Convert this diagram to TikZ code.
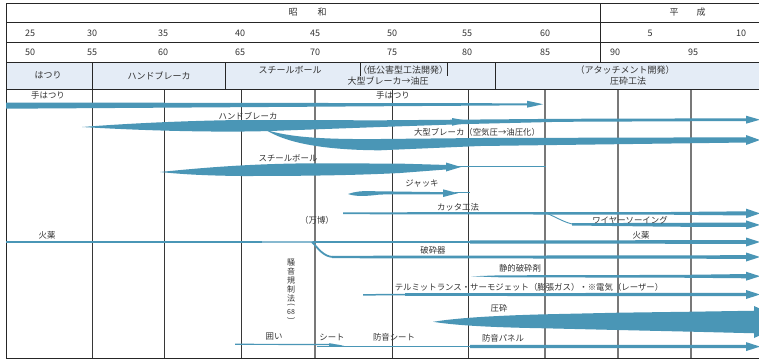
\documentclass[tikz,border=0pt]{standalone}
\usepackage{fontspec}
\setmainfont{Noto Sans CJK JP}
\definecolor{flow}{RGB}{74,150,182}
\definecolor{flowlight}{RGB}{135,185,208}
\definecolor{hdr}{RGB}{228,236,246}
\definecolor{txt}{RGB}{51,51,51}
\definecolor{gridd}{RGB}{55,55,55}
\definecolor{gridg}{RGB}{120,120,120}
\newcommand{\flowtip}[2]{\fill[flow] (746,#1-#2) -- (760,#1) -- (746,#1+#2) -- cycle;}
\begin{document}
\begin{tikzpicture}[x=1pt,y=-1pt,
  lbl/.style={font=\fontsize{8.4}{9}\selectfont, text=txt, inner sep=0pt},
  hlbl/.style={font=\fontsize{9}{10}\selectfont, text=txt, inner sep=0pt},
  frameline/.style={draw=black!85, line width=0.8pt},
  gridline/.style={draw=gridd, line width=0.8pt},
  gridgray/.style={draw=gridg, line width=1.1pt},
]
\useasboundingbox (0,0) rectangle (759,360);
\clip (0,0) rectangle (759,360);
\fill[white] (0,0) rectangle (759,360);
% header band
\fill[hdr] (6,62) rectangle (759,89);
% grid lines
\foreach \x in {92,164,241,392,468} \draw[gridline] (\x,89) -- (\x,358);
\foreach \x in {315,545,618,691} \draw[gridgray] (\x,89) -- (\x,358);
% frame
\draw[frameline] (6,3) -- (759,3);
\draw[frameline] (6,22) -- (759,22);
\draw[frameline] (6,42) -- (759,42);
\draw[frameline] (6,62) -- (759,62);
\draw[frameline] (6,89) -- (759,89);
\draw[frameline] (6,358) -- (759,358);
\draw[frameline] (6,3) -- (6,358);
\draw[frameline] (600,3) -- (600,62);
\draw[frameline] (92,62) -- (92,89);
\draw[frameline] (225,62) -- (225,89);
\draw[frameline] (495,62) -- (495,89);
\draw[frameline] (360,62) -- (360,76);
\draw[frameline] (447,62) -- (447,76);
% header texts
\node[hlbl] (sho1) at (293,12) {昭};
\node[hlbl] (sho2) at (322,12) {和};
\node[hlbl] (hei1) at (674,12) {平};
\node[hlbl] (hei2) at (701,12) {成};
\foreach \x/\t [count=\i] in {30/25,92/30,163/35,240/40,315/45,392/50,467/55,545/60,650/5,741/10}
  \node[hlbl] (ys\i) at (\x,33) {\t};
\foreach \x/\t [count=\i] in {30/50,92/55,163/60,240/65,315/70,392/75,467/80,545/85,615/90,693/95}
  \node[hlbl] (yw\i) at (\x,52) {\t};
\node[hlbl] (h1) at (48,75.5) {はつり};
\node[hlbl] (h2) at (159,76) {ハンドブレーカ};
\node[hlbl] (h3) at (290,70) {スチールボール};
\node[hlbl] (h4) at (403,70) {（低公害型工法開発）};
\node[hlbl] (h5) at (388,81) {大型ブレーカ→油圧};
\node[hlbl] (h6) at (625,70) {（アタッチメント開発）};
\node[hlbl] (h7) at (628,81) {圧砕工法};
% ---- flows ----
% te-hatsuri
\fill[flow] (6,102.5) -- (529,103.3) -- (529,105.3) -- (6,108.7) -- cycle;
\fill[flow] (527,100.7) -- (543,104.2) -- (527,107.7) -- cycle;
% hand breaker
\fill[flow] (82,127) .. controls (140,122.5) and (200,120.5) .. (241,120) -- (380,120.3) -- (468,119.6) -- (560,118.8) -- (747,118.3) -- (747,121) -- (560,121.8) -- (468,124) -- (380,127) -- (270,131) .. controls (220,132.5) and (150,131) .. (82,127) -- cycle;
\fill[flow] (452,118) -- (470,121.3) -- (452,125.8) -- cycle;
\flowtip{119.7}{4}
% large breaker branch
\fill[flow] (266,130) .. controls (290,137) and (320,139.5) .. (380,139) -- (480,138) -- (747,137.3) -- (747,142.5) -- (480,146) -- (380,150.3) .. controls (320,150) and (285,142) .. (266,130) -- cycle;
\flowtip{140}{5}
% steel ball
\fill[flow] (160,172) .. controls (200,168) and (250,163.5) .. (315,163.3) -- (400,163.6) -- (448,165) -- (448,169.3) -- (400,173) .. controls (350,175.5) and (300,176) .. (241,176) .. controls (200,175.5) and (180,174) .. (160,172) -- cycle;
\fill[flow] (446,162.5) -- (461,167) -- (446,171.5) -- cycle;
\draw[flow, line width=1.4pt] (455,166.5) -- (546,166.5);
% jack
\fill[flow] (348,194) .. controls (355,191.5) and (362,190.8) .. (372,191.2) -- (445,192.2) -- (445,194.3) -- (380,194.5) .. controls (365,196.5) and (355,196.5) .. (348,194) -- cycle;
\fill[flow] (443,189.3) -- (458,193.2) -- (443,197) -- cycle;
\draw[flow, line width=1pt] (455,192.7) -- (470,192.7);
% cutter
\fill[flow] (343,212.3) -- (670,212) -- (748,211.3) -- (748,215.5) -- (670,214.7) -- (343,214.2) -- cycle;
\flowtip{213.4}{4.8}
% wire sawing
\draw[flow, line width=0.9pt] (546,213) .. controls (556,217) and (565,223) .. (574,224.3);
\fill[flow] (572,223.2) -- (670,222.8) -- (748,222.6) -- (748,227) -- (670,226.7) -- (572,225.5) -- cycle;
\flowtip{224.9}{4.5}
% explosives
\draw[flow, line width=1.8pt] (6,242) -- (262,242);
\draw[flowlight, line width=1.8pt] (262,242) -- (313,242);
\draw[flow, line width=1.8pt] (313,242) -- (470,242);
\fill[flow] (470,240.3) -- (748,240.2) -- (748,243.8) -- (470,243.6) -- cycle;
\flowtip{242}{4.5}
% crusher
\draw[flow, line width=1.8pt] (312,242) .. controls (318,248) and (323,256.5) .. (333,257);
\fill[flow] (332,255.8) -- (748,255.2) -- (748,258.8) -- (332,258.2) -- cycle;
\flowtip{257}{4.5}
% static demolition agent
\fill[flow] (471,276.3) -- (500,275.3) -- (680,274.9) -- (748,274) -- (748,278.3) -- (680,277.7) -- (500,277.3) -- cycle;
\flowtip{276.2}{4.5}
% thermit
\draw[flow, line width=1.5pt] (363,294.8) -- (405,294.6);
\fill[flow] (405,293.2) -- (748,292.8) -- (748,296.2) -- (405,295.9) -- cycle;
\flowtip{294.5}{4.5}
% crushing
\fill[flow] (433,321.8) .. controls (460,317.5) and (500,315.5) .. (545,314.3) -- (618,312.7) -- (692,311.7) -- (756,310.7) -- (756,333.3) -- (692,331.7) -- (618,330) -- (545,328.3) .. controls (500,327.5) and (460,326) .. (433,321.8) -- cycle;
\fill[flow] (754,306) -- (790,322) -- (754,338) -- cycle;
% noise protection
\draw[flow, line width=1.2pt] (235,344.3) -- (333,344.5);
\fill[flow] (329,343.2) -- (344,345.6) -- (329,346.5) -- cycle;
\draw[flow, line width=1.4pt] (317,346.4) -- (470,346.4);
\fill[flow] (470,344.8) -- (748,344.9) -- (748,348.2) -- (470,348.1) -- cycle;
\flowtip{346.6}{4.5}
% ---- body labels ----
\node[lbl] (l1) at (48,95) {手はつり};
\node[lbl] (l2) at (393,95) {手はつり};
\node[lbl] (l3) at (248,116) {ハンドブレーカ};
\node[lbl] (l4) at (477,132) {大型ブレーカ（空気圧→油圧化）};
\node[lbl] (l5) at (288,158) {スチールボール};
\node[lbl] (l6) at (422,184) {ジャッキ};
\node[lbl] (l7) at (458,207) {カッタ工法};
\node[lbl] (l8) at (317,220) {（万博）};
\node[lbl] (l9) at (47,235) {火薬};
\node[lbl] (l10) at (641,235) {火薬};
\node[lbl] (l11) at (630,220) {ワイヤーソーイング};
\node[lbl] (l12) at (433,250) {破砕器};
\node[lbl] (l13) at (520,268) {静的破砕剤};
\node[lbl] (l14) at (529,287) {テルミットランス・サーモジェット（膨張ガス）・※電気（レーザー）};
\node[lbl] (l15) at (499,308) {圧砕};
\node[lbl] (l16) at (274,337) {囲い};
\node[lbl] (l17) at (332,337) {シート};
\node[lbl] (l18) at (394,337) {防音シート};
\node[lbl] (l19) at (503,338) {防音パネル};
\node[lbl, font=\fontsize{8}{9.1}\selectfont, align=center] (law) at (291,280.8) {騒\\音\\規\\制\\法};
\node[lbl, rotate=-90, font=\fontsize{8}{9}\selectfont] (pa) at (291,304.5) {(};
\node[lbl, font=\fontsize{7}{8}\selectfont] (n68) at (291,311.5) {68};
\node[lbl, rotate=-90, font=\fontsize{8}{9}\selectfont] (pb) at (291,318.5) {)};
\end{tikzpicture}
\end{document}
